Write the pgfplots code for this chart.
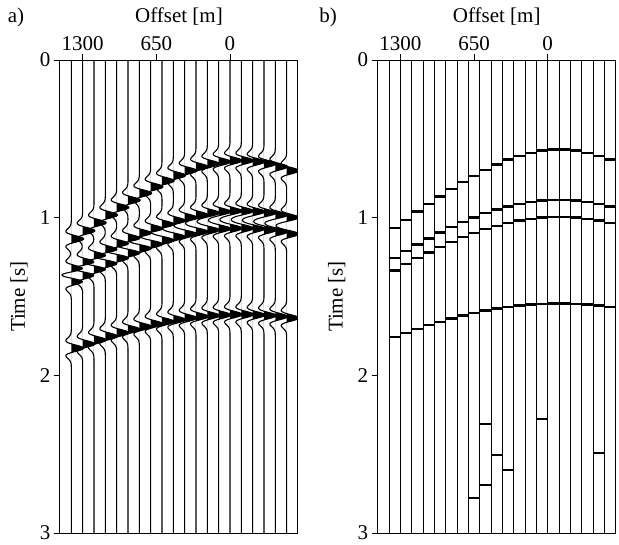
\documentclass[border=0pt]{standalone}
\usepackage{pgfplots}
\pgfplotsset{compat=1.18}
\usepackage{pgfplotstable}
\usepackage{fontspec}
\setmainfont{Liberation Serif}

% panel a: peak times of the four events on each trace (wiggle display)
\pgfplotstableread{
k off e1 e2 e3 e4
0 1400 1.135 1.324 1.404 1.828
1 1300 1.083 1.282 1.364 1.801
2 1200 1.032 1.241 1.326 1.776
3 1100 0.983 1.202 1.290 1.752
4 1000 0.935 1.165 1.255 1.730
5 900 0.889 1.130 1.223 1.709
6 800 0.845 1.098 1.194 1.691
7 700 0.804 1.069 1.167 1.674
8 600 0.766 1.042 1.143 1.659
9 500 0.732 1.019 1.121 1.647
10 400 0.702 0.999 1.103 1.636
11 300 0.677 0.983 1.089 1.627
12 200 0.658 0.970 1.078 1.621
13 100 0.645 0.962 1.070 1.617
14 0 0.638 0.958 1.067 1.614
15 -100 0.638 0.958 1.067 1.614
16 -200 0.645 0.962 1.070 1.617
17 -300 0.658 0.970 1.078 1.621
18 -400 0.677 0.983 1.089 1.627
19 -500 0.702 0.999 1.103 1.636
}\tabA

% panel b: spike times of the four events on each trace
\pgfplotstableread{
k off e1 e2 e3 e4
0 1400 1.065 1.254 1.334 1.758
1 1300 1.013 1.212 1.294 1.731
2 1200 0.962 1.171 1.256 1.706
3 1100 0.913 1.132 1.220 1.682
4 1000 0.865 1.095 1.185 1.660
5 900 0.819 1.060 1.153 1.639
6 800 0.775 1.028 1.124 1.621
7 700 0.734 0.999 1.097 1.604
8 600 0.696 0.972 1.073 1.589
9 500 0.662 0.949 1.051 1.577
10 400 0.632 0.929 1.033 1.566
11 300 0.607 0.913 1.019 1.557
12 200 0.588 0.900 1.008 1.551
13 100 0.575 0.892 1.000 1.547
14 0 0.568 0.888 0.997 1.544
15 -100 0.568 0.888 0.997 1.544
16 -200 0.575 0.892 1.000 1.547
17 -300 0.588 0.900 1.008 1.551
18 -400 0.607 0.913 1.019 1.557
19 -500 0.632 0.929 1.033 1.566
}\tabB

% panel b: isolated late spikes
\pgfplotstableread{
off t
700 2.777
600 2.311
600 2.695
500 2.504
400 2.602
100 2.275
-400 2.495
}\tabX

\newcount\si
\def\amp{108}
\newcommand\addw[1]{%
  \pgfmathsetmacro\dT{\tS-#1}%
  \ifdim\dT pt<0.15pt\relax
    \ifdim\dT pt>-0.15pt\relax
      \pgfmathsetmacro\uU{(25.5*\dT)^2}%
      \pgfmathsetmacro\wacc{\wacc+(1-2*\uU)*exp(-\uU)}%
    \fi
  \fi}

\pgfplotsset{
  panel/.style={
    scale only axis, width=238pt, height=473pt,
    xmin=-600, xmax=1500, x dir=reverse,
    ymin=0, ymax=3, y dir=reverse,
    xtick={0,650,1300}, xticklabels={0,650,1300},
    ytick={0,1,2,3},
    xtick pos=upper, xticklabel pos=upper, ytick pos=left,
    tick align=outside, major tick length=6pt,
    axis line style={line width=1pt},
    every tick/.style={black, line width=0.9pt},
    font=\fontsize{21}{25}\selectfont,
    tick label style={font=\fontsize{21}{25}\selectfont},
    /pgf/number format/assume math mode=true,
    xlabel={Offset [m]}, ylabel={Time [s]},
    every axis x label/.style={at={(axis description cs:0.5,1)}, yshift=43pt, anchor=center, font=\fontsize{21}{25}\selectfont},
    every axis y label/.style={at={(axis description cs:0,0.5)}, xshift=-41pt, rotate=90, anchor=center, font=\fontsize{21}{25}\selectfont},
  }
}

\begin{document}
\begin{tikzpicture}
\begin{axis}[panel, name=pa, at={(0pt,0pt)}, anchor=south west]
\pgfplotsforeachungrouped \k in {0,...,19}{%
  \pgfplotstablegetelem{\k}{off}\of\tabA \let\xo\pgfplotsretval
  \pgfplotstablegetelem{\k}{e1}\of\tabA \let\eA\pgfplotsretval
  \pgfplotstablegetelem{\k}{e2}\of\tabA \let\eB\pgfplotsretval
  \pgfplotstablegetelem{\k}{e3}\of\tabA \let\eC\pgfplotsretval
  \pgfplotstablegetelem{\k}{e4}\of\tabA \let\eD\pgfplotsretval
  \pgfmathsetmacro\ts{\eA-0.15}%
  \pgfmathtruncatemacro\N{(\eD-\eA+0.30)/0.004}%
  \xdef\lc{(\xo,0)}%
  \xdef\fc{(\xo,\ts)}%
  \si=0
  \loop
    \pgfmathsetmacro\tS{\ts+\the\si*0.004}%
    \def\wacc{0}%
    \addw\eA\addw\eB\addw\eC\addw\eD
    \pgfmathsetmacro\xw{\xo-\amp*\wacc}%
    \pgfmathsetmacro\xf{\xo-\amp*max(\wacc,0)}%
    \xdef\lc{\lc(\xw,\tS)}%
    \xdef\fc{\fc(\xf,\tS)}%
    \advance\si by 1
  \ifnum\si<\N\repeat
  \xdef\lc{\lc(\xo,3)}%
  \xdef\fc{\fc(\xo,\tS)}%
  \edef\cmd{\noexpand\addplot[fill=black,draw=none] coordinates {\fc};
    \noexpand\addplot[black,line width=1.1pt] coordinates {\lc};}%
  \cmd
}
\end{axis}

\begin{axis}[panel, name=pb, at={(317.7pt,0pt)}, anchor=south west]
\addplot[quiver={u=0,v=3}, black, line width=0.9pt, no markers] table[x=off, y expr=0] {\tabB};
\addplot[quiver={u=-100,v=0}, black, line width=2.4pt, no markers] table[x=off, y=e1] {\tabB};
\addplot[quiver={u=-100,v=0}, black, line width=2.4pt, no markers] table[x=off, y=e2] {\tabB};
\addplot[quiver={u=-100,v=0}, black, line width=2.4pt, no markers] table[x=off, y=e3] {\tabB};
\addplot[quiver={u=-100,v=0}, black, line width=2.4pt, no markers] table[x=off, y=e4] {\tabB};
\addplot[quiver={u=-100,v=0}, black, line width=2pt, no markers] table[x=off, y=t] {\tabX};
\end{axis}

\node[font=\fontsize{21}{25}\selectfont] at (-44pt,515.5pt) {a)};
\node[font=\fontsize{21}{25}\selectfont] at (268.2pt,515.5pt) {b)};

\pgfresetboundingbox
\useasboundingbox (-60pt,-11pt) rectangle (559pt,533pt);
\end{tikzpicture}
\end{document}
